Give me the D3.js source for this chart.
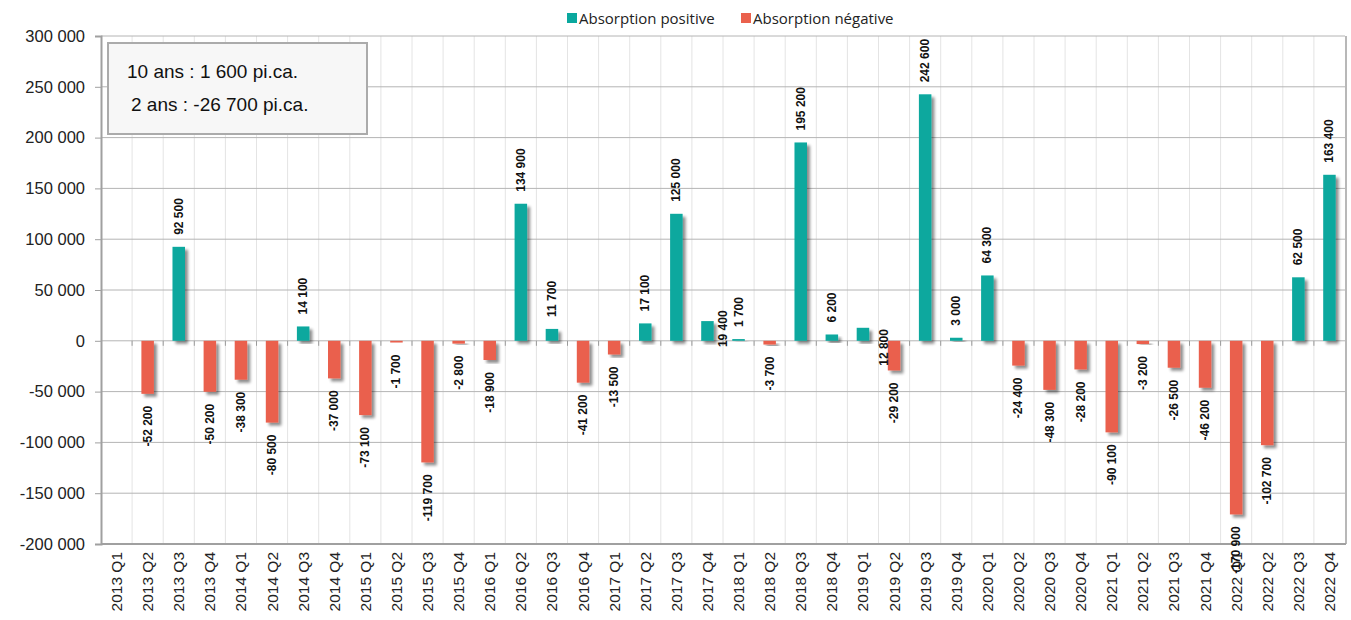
<!DOCTYPE html>
<html><head><meta charset="utf-8">
<script src="https://cdn.jsdelivr.net/npm/d3@7"></script>
<style>body{margin:0;background:#fff;}svg{display:block;}</style>
</head><body>
<svg id="c" width="1351" height="620"></svg>
<script>
const categories = ["2013 Q1","2013 Q2","2013 Q3","2013 Q4","2014 Q1","2014 Q2","2014 Q3","2014 Q4","2015 Q1","2015 Q2","2015 Q3","2015 Q4","2016 Q1","2016 Q2","2016 Q3","2016 Q4","2017 Q1","2017 Q2","2017 Q3","2017 Q4","2018 Q1","2018 Q2","2018 Q3","2018 Q4","2019 Q1","2019 Q2","2019 Q3","2019 Q4","2020 Q1","2020 Q2","2020 Q3","2020 Q4","2021 Q1","2021 Q2","2021 Q3","2021 Q4","2022 Q1","2022 Q2","2022 Q3","2022 Q4"];
const absorption = [null,-52200,92500,-50200,-38300,-80500,14100,-37000,-73100,-1700,-119700,-2800,-18900,134900,11700,-41200,-13500,17100,125000,19400,1700,-3700,195200,6200,12800,-29200,242600,3000,64300,-24400,-48300,-28200,-90100,-3200,-26500,-46200,-170900,-102700,62500,163400];
const seriesNames = ["Absorption positive","Absorption négative"];
const yTicks = [-200000,-150000,-100000,-50000,0,50000,100000,150000,200000,250000,300000];
const summaryLines = ["10 ans : 1 600 pi.ca.","2 ans : -26 700 pi.ca."];

// manual label nudges (as in reference)
const labelNudge = {"2017 Q4":[16,38],"2019 Q1":[21,50]};

const colors = {pos:"#0aa89e", neg:"#ea614d"};
const svg = d3.select("#c");
const m = {l:101, r:1345, t:36, b:544};
const x = d3.scaleBand().domain(categories).range([m.l, m.r]).paddingInner(0).paddingOuter(0);
const y = d3.scaleLinear().domain([-200000,300000]).range([m.b, m.t]);
const fmt = v => d3.format(",")(v).replace(/,/g," ").replace(/\u2212/g,"-");

const defs = svg.append("defs");
const f = defs.append("filter").attr("id","sh").attr("x","-50%").attr("y","-20%").attr("width","200%").attr("height","140%");
f.append("feGaussianBlur").attr("in","SourceAlpha").attr("stdDeviation",1.6).attr("result","b");
f.append("feOffset").attr("in","b").attr("dx",3).attr("dy",3).attr("result","o");
f.append("feComponentTransfer").attr("in","o").attr("result","o2").append("feFuncA").attr("type","linear").attr("slope",0.45);
const mg = f.append("feMerge"); mg.append("feMergeNode").attr("in","o2"); mg.append("feMergeNode").attr("in","SourceGraphic");

// vertical gridlines at category boundaries
svg.append("g").selectAll("line").data(categories.slice(1)).join("line")
  .attr("x1",d=>x(d)).attr("x2",d=>x(d)).attr("y1",m.t).attr("y2",m.b)
  .attr("stroke","#e4e4e4").attr("stroke-width",1);
// horizontal gridlines
svg.append("g").selectAll("line").data(yTicks).join("line")
  .attr("x1",m.l).attr("x2",m.r).attr("y1",d=>y(d)).attr("y2",d=>y(d))
  .attr("stroke","#b4b4b4").attr("stroke-width",1);
// small ticks on zero line
svg.append("g").selectAll("line").data(categories.slice(1)).join("line")
  .attr("x1",d=>x(d)).attr("x2",d=>x(d)).attr("y1",y(0)).attr("y2",y(0)+5)
  .attr("stroke","#9a9a9a").attr("stroke-width",1);

// y axis
const yAxis = svg.append("g").attr("transform",`translate(${m.l},0)`)
  .call(d3.axisLeft(y).tickValues(yTicks).tickFormat(fmt).tickSize(6).tickPadding(10));
yAxis.select(".domain").attr("stroke","#a0a0a0").attr("stroke-width",2);
yAxis.selectAll(".tick line").attr("stroke","#a0a0a0");
yAxis.selectAll("text").attr("font-family","Liberation Sans, Arial, sans-serif").attr("font-size",16.5).attr("fill","#222");

// plot border bottom/right
svg.append("line").attr("x1",m.l).attr("x2",m.r+1).attr("y1",m.b).attr("y2",m.b).attr("stroke","#a0a0a0").attr("stroke-width",2);
svg.append("line").attr("x1",m.r+1).attr("x2",m.r+1).attr("y1",m.t).attr("y2",m.b).attr("stroke","#a0a0a0").attr("stroke-width",1.5);

// x axis labels
const xAxis = svg.append("g").attr("transform",`translate(0,${m.b})`)
  .call(d3.axisBottom(x).tickSize(0).tickPadding(0));
xAxis.select(".domain").remove();
xAxis.selectAll("text")
  .attr("font-family","Liberation Sans, Arial, sans-serif").attr("font-size",15.5).attr("fill","#222")
  .attr("text-anchor","end").attr("dy",null).attr("y",0)
  .attr("transform","translate(0,8) rotate(-90)").attr("dominant-baseline","central");

// bars
const data = categories.map((c,i)=>({c, v:absorption[i]})).filter(d=>d.v!==null);
const bw = 12.5;
svg.append("g").selectAll("rect").data(data).join("rect")
  .attr("x",d=>x(d.c)+x.bandwidth()/2-bw/2)
  .attr("width",bw)
  .attr("y",d=>y(Math.max(0,d.v)))
  .attr("height",d=>Math.abs(y(d.v)-y(0)))
  .attr("fill",d=>d.v>=0?colors.pos:colors.neg)
  .attr("filter","url(#sh)");

// data labels
const gap = 12;
svg.append("g").selectAll("text").data(data).join("text")
  .attr("transform",d=>{
    const n = labelNudge[d.c]||[0,0];
    const cx = x(d.c)+x.bandwidth()/2 + n[0];
    const cy = (d.v>=0 ? y(d.v)-gap : y(d.v)+gap) + n[1];
    return `translate(${cx},${cy}) rotate(-90)`;
  })
  .attr("text-anchor",d=>d.v>=0?"start":"end")
  .attr("dominant-baseline","central")
  .attr("font-family","Liberation Sans, Arial, sans-serif").attr("font-weight","bold").attr("font-size",12).attr("fill","#111")
  .text(d=>fmt(d.v));

// summary box
svg.append("rect").attr("x",108).attr("y",43).attr("width",259).attr("height",91)
  .attr("fill","#f7f7f7").attr("stroke","#ababab").attr("stroke-width",2);
svg.append("g").selectAll("text").data(summaryLines).join("text")
  .attr("x",(d,i)=>i===0?127:131).attr("y",(d,i)=>i===0?78:111)
  .attr("font-family","Liberation Sans, Arial, sans-serif").attr("font-size",19).attr("fill","#111")
  .text(d=>d);

// legend
const lg = svg.append("g");
const lx = [567,741];
seriesNames.forEach((s,i)=>{
  lg.append("rect").attr("x",lx[i]).attr("y",13).attr("width",10).attr("height",10).attr("fill",i===0?colors.pos:colors.neg);
  lg.append("text").attr("x",lx[i]+12).attr("y",23.5).attr("font-family","Open Sans, sans-serif").attr("font-size",15).attr("fill","#222").text(s);
});
</script>
</body></html>
